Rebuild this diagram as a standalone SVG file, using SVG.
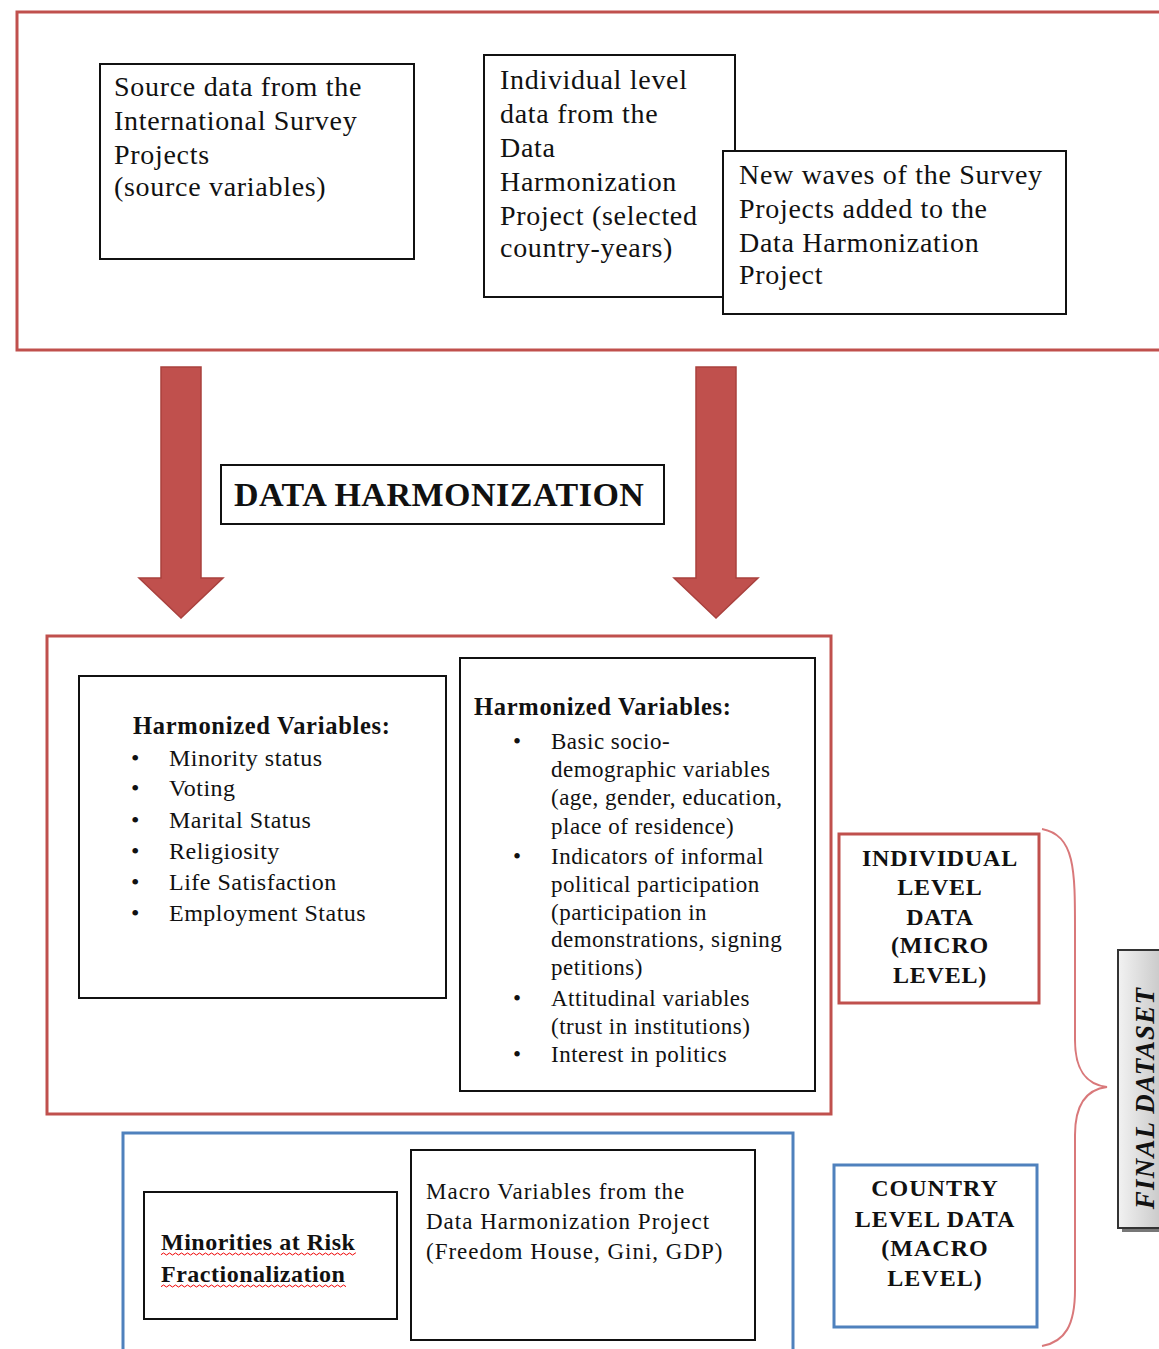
<svg xmlns="http://www.w3.org/2000/svg" width="1159" height="1349" viewBox="0 0 1159 1349">
<style>
.t{font-family:"Liberation Serif","Times New Roman",serif;fill:#111}
.box{fill:#fff;stroke:#111;stroke-width:2}
.red{fill:none;stroke:#c0504d;stroke-width:3}
.blue{fill:none;stroke:#4f81bd;stroke-width:3}
.b{font-weight:bold}
.arrow{fill:#c0504d;stroke:#a9403d;stroke-width:1.5}
.top{font-size:28px;letter-spacing:0.7px}
</style>
<defs>
<linearGradient id="g" x1="0" y1="0" x2="1" y2="0">
<stop offset="0" stop-color="#f2f2f2"/><stop offset="1" stop-color="#c8c8c8"/>
</linearGradient>
<pattern id="wavy" width="6" height="4" patternUnits="userSpaceOnUse">
<path d="M0,2 Q1.5,0 3,2 T6,2" fill="none" stroke="#e00" stroke-width="1"/>
</pattern>
</defs>

<g id="sources-frame"><rect class="red" x="17" y="12" width="1160" height="338"/></g>

<g id="source-data">
<rect class="box" x="100" y="64" width="314" height="195"/>
<text class="t top"><tspan x="114" y="96">Source data from the</tspan><tspan x="114" y="130">International Survey</tspan><tspan x="114" y="164">Projects</tspan><tspan x="114" y="196">(source variables)</tspan></text>
</g>

<g id="individual-data">
<rect class="box" x="484" y="55" width="251" height="242"/>
<text class="t top"><tspan x="500" y="89">Individual level</tspan><tspan x="500" y="123">data from the</tspan><tspan x="500" y="157">Data</tspan><tspan x="500" y="191">Harmonization</tspan><tspan x="500" y="225">Project (selected</tspan><tspan x="500" y="257">country-years)</tspan></text>
</g>

<g id="new-waves">
<rect class="box" x="723" y="151" width="343" height="163"/>
<text class="t top"><tspan x="739" y="184">New waves of the Survey</tspan><tspan x="739" y="218">Projects added to the</tspan><tspan x="739" y="252">Data Harmonization</tspan><tspan x="739" y="284">Project</tspan></text>
</g>

<g id="connectors">
<path class="arrow" d="M161,367 H201 V578 H223 L181,618 L139,578 H161 Z"/>
<path class="arrow" d="M696,367 H736 V578 H758 L716,618 L674,578 H696 Z"/>
<path d="M1042,829 C1075,835 1075,870 1075,930 V1040 C1075,1075 1090,1085 1107,1087 C1090,1089 1075,1100 1075,1135 V1290 C1075,1325 1065,1342 1042,1346" fill="none" stroke="#d9787a" stroke-width="2"/>
</g>

<g id="data-harmonization">
<rect class="box" x="221" y="465" width="443" height="59"/>
<text class="t b" font-size="34" letter-spacing="0.5" x="234" y="506">DATA HARMONIZATION</text>
</g>

<g id="harmonized-frame"><rect class="red" x="47" y="636" width="784" height="478" stroke="#b04a47"/></g>

<g id="harmonized-left">
<rect class="box" x="79" y="676" width="367" height="322"/>
<text class="t b" font-size="24.5" letter-spacing="0.7" x="133" y="734">Harmonized Variables:</text>
<g class="t" font-size="24" letter-spacing="0.5">
<text x="131" y="766">•</text><text x="169" y="766">Minority status</text>
<text x="131" y="796">•</text><text x="169" y="796">Voting</text>
<text x="131" y="828">•</text><text x="169" y="828">Marital Status</text>
<text x="131" y="859">•</text><text x="169" y="859">Religiosity</text>
<text x="131" y="890">•</text><text x="169" y="890">Life Satisfaction</text>
<text x="131" y="921">•</text><text x="169" y="921">Employment Status</text>
</g>
</g>

<g id="harmonized-right">
<rect class="box" x="460" y="658" width="355" height="433"/>
<text class="t b" font-size="24.5" letter-spacing="0.7" x="474" y="715">Harmonized Variables:</text>
<g class="t" font-size="23" letter-spacing="0.5">
<text x="513" y="749">•</text>
<text><tspan x="551" y="749">Basic socio-</tspan><tspan x="551" y="777">demographic variables</tspan><tspan x="551" y="805">(age, gender, education,</tspan><tspan x="551" y="834">place of residence)</tspan></text>
<text x="513" y="864">•</text>
<text><tspan x="551" y="864">Indicators of informal</tspan><tspan x="551" y="892">political participation</tspan><tspan x="551" y="920">(participation in</tspan><tspan x="551" y="947">demonstrations, signing</tspan><tspan x="551" y="975">petitions)</tspan></text>
<text x="513" y="1006">•</text>
<text><tspan x="551" y="1006">Attitudinal variables</tspan><tspan x="551" y="1034">(trust in institutions)</tspan></text>
<text x="513" y="1062">•</text>
<text x="551" y="1062">Interest in politics</text>
</g>
</g>

<g id="individual-level">
<rect class="red" x="839" y="834" width="200" height="169"/>
<text class="t b" font-size="24" letter-spacing="0.8" text-anchor="middle"><tspan x="940" y="866">INDIVIDUAL</tspan><tspan x="940" y="895">LEVEL</tspan><tspan x="940" y="925">DATA</tspan><tspan x="940" y="953">(MICRO</tspan><tspan x="940" y="983">LEVEL)</tspan></text>
</g>

<g id="final-dataset">
<rect x="1122" y="954" width="45" height="278" fill="#777"/>
<rect x="1118" y="950" width="45" height="278" fill="url(#g)" stroke="#333" stroke-width="2"/>
<text class="t b" font-style="italic" font-size="27" letter-spacing="1.2" text-anchor="middle" transform="translate(1154,1098) rotate(-90)">FINAL DATASET</text>
</g>

<g id="macro-frame"><rect class="blue" x="123" y="1133" width="670" height="230"/></g>

<g id="minorities">
<rect class="box" x="144" y="1192" width="253" height="127"/>
<text class="t b" font-size="24" letter-spacing="0.5"><tspan x="161" y="1250">Minorities at Risk</tspan><tspan x="161" y="1282">Fractionalization</tspan></text>
<rect x="161" y="1252" width="195" height="4" fill="url(#wavy)"/>
<rect x="161" y="1284" width="185" height="4" fill="url(#wavy)"/>
</g>

<g id="macro-variables">
<rect class="box" x="411" y="1150" width="344" height="190"/>
<text class="t" font-size="23" letter-spacing="1"><tspan x="426" y="1199">Macro Variables from the</tspan><tspan x="426" y="1229">Data Harmonization Project</tspan><tspan x="426" y="1259">(Freedom House, Gini, GDP)</tspan></text>
</g>

<g id="country-level">
<rect class="blue" x="834" y="1165" width="203" height="162"/>
<text class="t b" font-size="24" letter-spacing="1" text-anchor="middle"><tspan x="935" y="1196">COUNTRY</tspan><tspan x="935" y="1227">LEVEL DATA</tspan><tspan x="935" y="1256">(MACRO</tspan><tspan x="935" y="1286">LEVEL)</tspan></text>
</g>
</svg>
